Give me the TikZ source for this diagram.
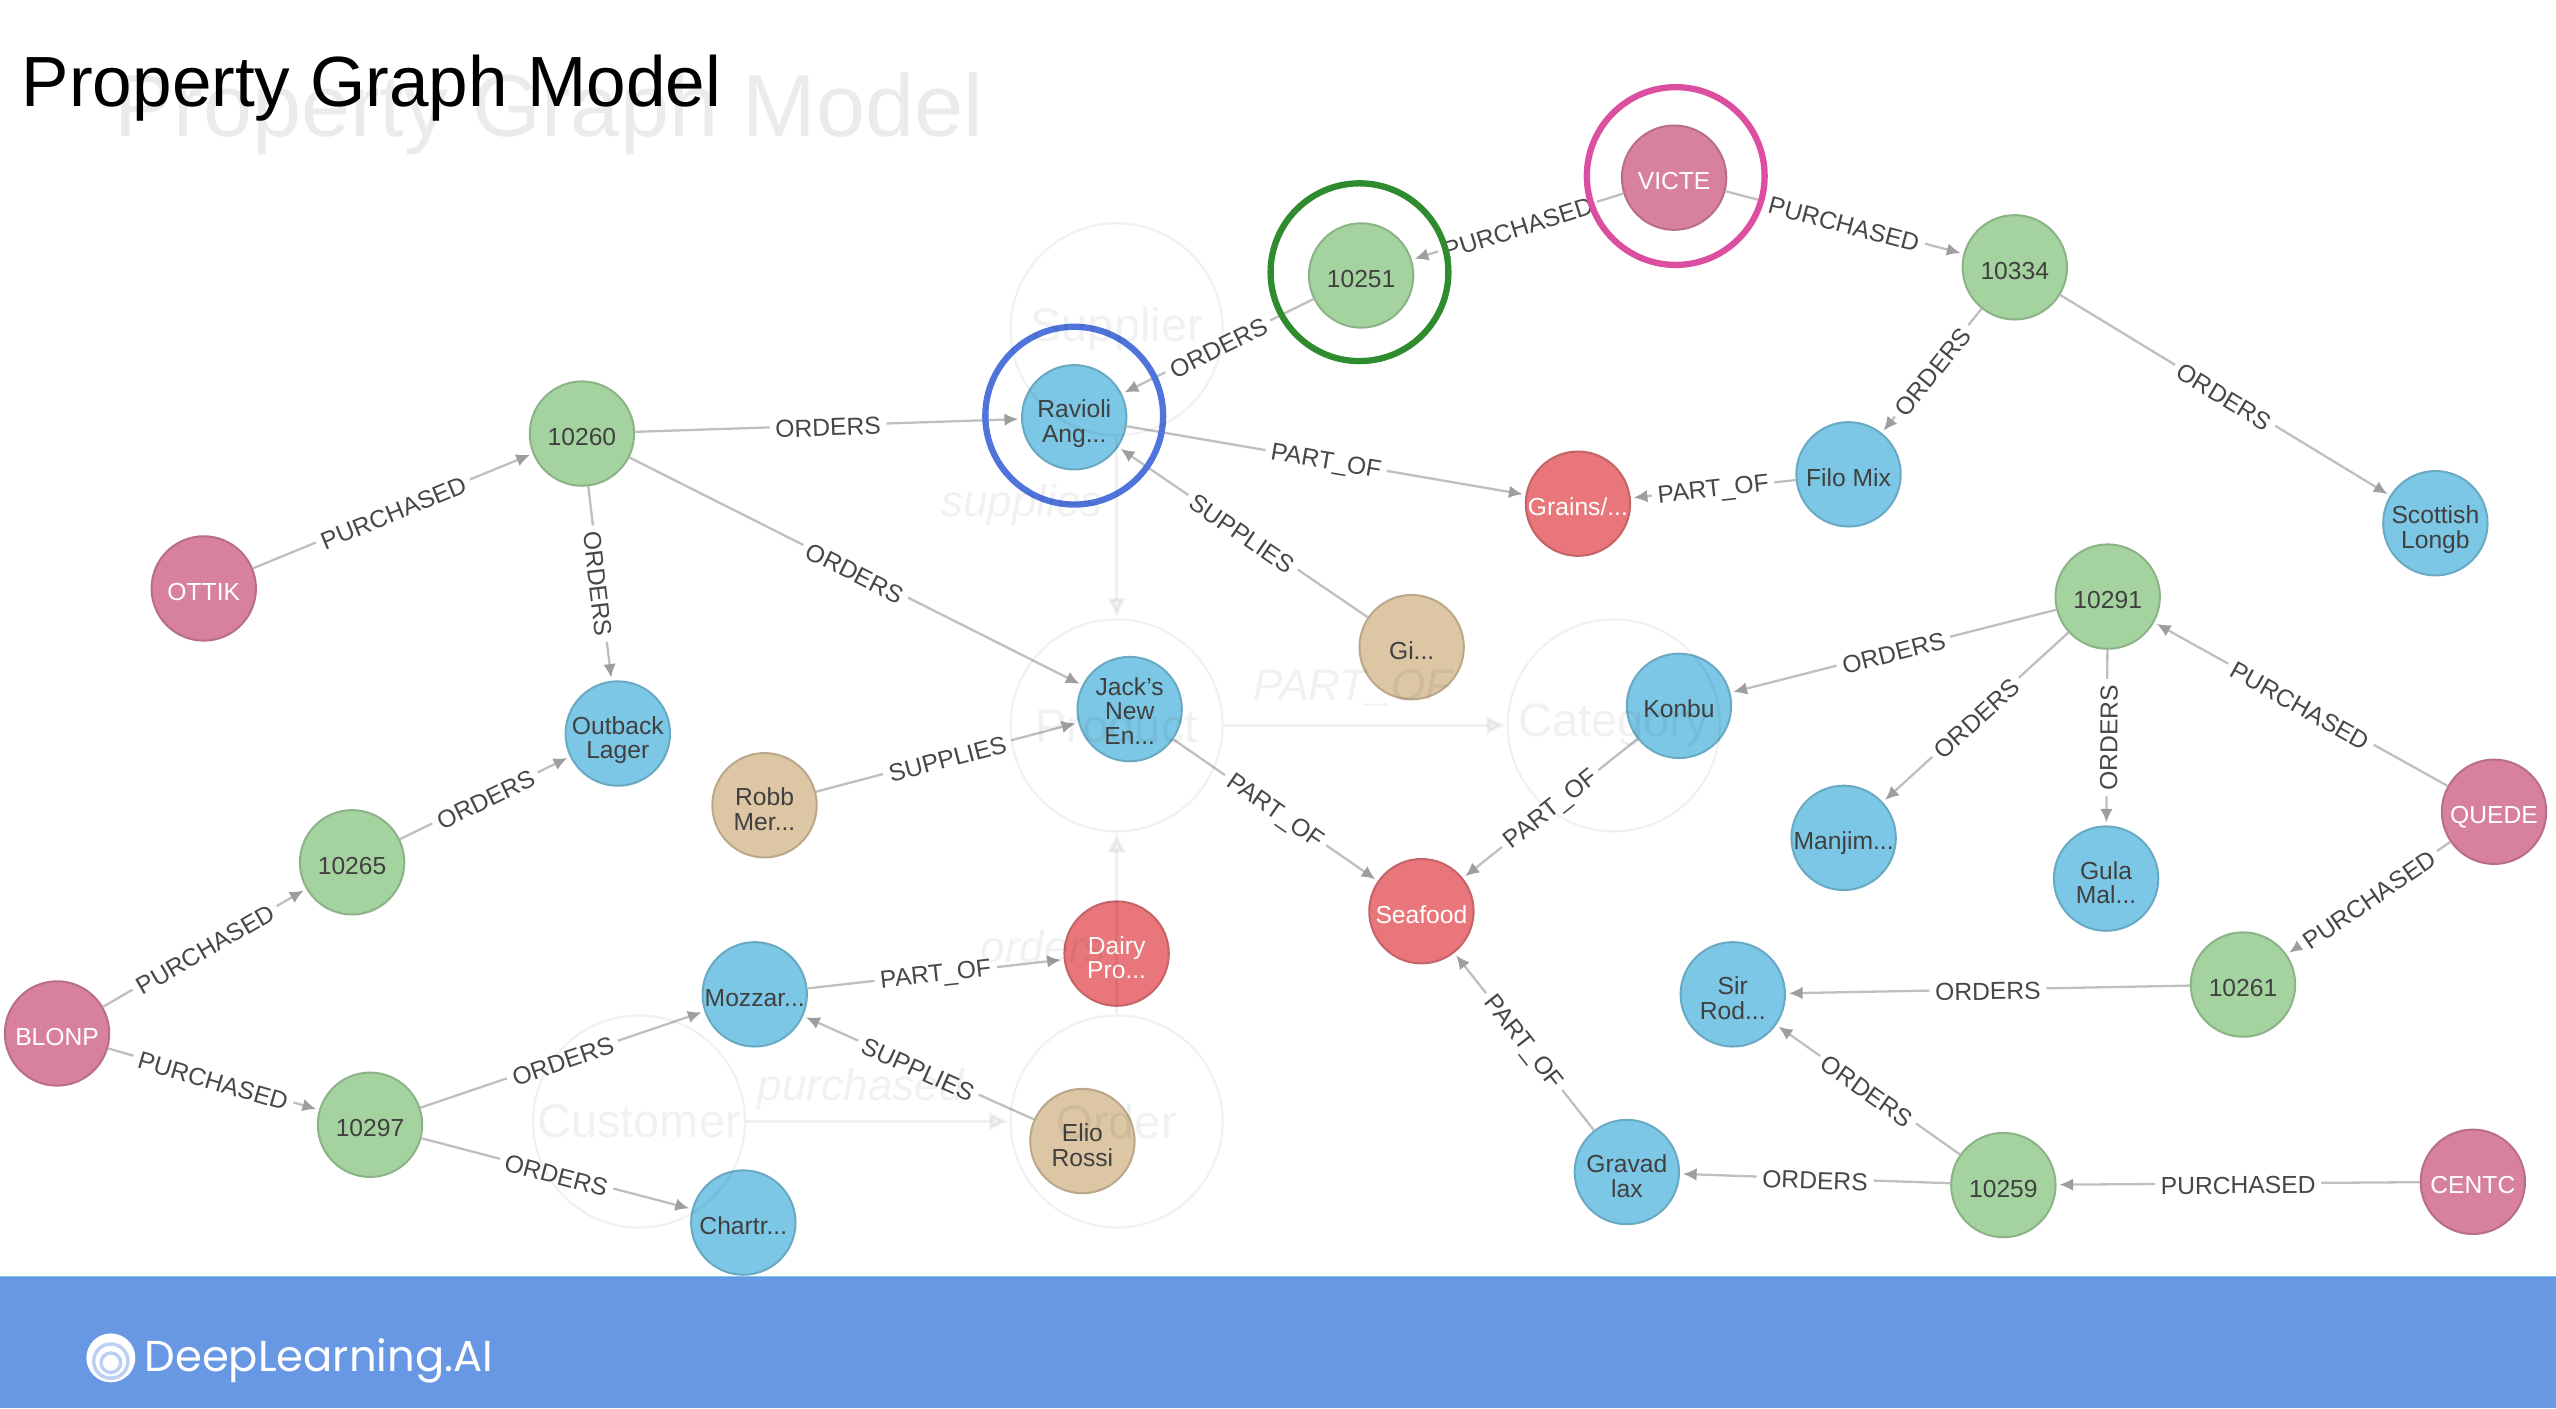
\documentclass[tikz,border=0pt]{standalone}
\usepackage{fontspec}
\setmainfont{Liberation Sans}
\newfontfamily\logofont{Poppins}
\usetikzlibrary{arrows.meta}

\definecolor{bandblue}{HTML}{6897E3}
\definecolor{custpink}{HTML}{D8819F}
\definecolor{ordergreen}{HTML}{A5D3A0}
\definecolor{prodblue}{HTML}{7CC7E5}
\definecolor{catred}{HTML}{E8767A}
\definecolor{suptan}{HTML}{DCC6A3}

\tikzset{
    graphnode/.style={circle, inner sep=0pt, minimum size=0.64cm, line width=0.35pt, align=center, text=black!75, text height=4.2pt, text depth=0pt, font=\fontsize{4.3}{4.3}\selectfont},
    twoline/.style={text height=8.8pt},
    threeline/.style={text height=12.3pt},
    customer/.style={graphnode, fill=custpink, draw=custpink!85!black, text=white},
    order/.style={graphnode, fill=ordergreen, draw=ordergreen!85!black},
    product/.style={graphnode, fill=prodblue, draw=prodblue!85!black},
    category/.style={graphnode, fill=catred, draw=catred!85!black, text=white},
    supplier/.style={graphnode, fill=suptan, draw=suptan!85!black},
    ring/.style={circle, inner sep=0pt, minimum size=1.09cm, line width=1.1pt},
    rel/.style={draw=black!25, line width=0.4pt, shorten >=0.5pt, -{Latex[length=2.4pt,width=2.2pt,black!38]}},
    rellabel/.style={midway, sloped, fill=white, inner sep=1pt, text=black!72, text height=3.7pt, font=\fontsize{4.3}{4.3}\selectfont},
    ghost/.style={circle, draw, inner sep=0pt, minimum size=1.3cm, line width=0.4pt, font=\fontsize{8.2}{8.2}\selectfont},
    ghostlink/.style={-{Latex[length=3.5pt,width=3.5pt]}, line width=0.6pt},
    ghostlabel/.style={font=\itshape\fontsize{7.7}{7.7}\selectfont}
}

\begin{document}
\begin{tikzpicture}[x=0.01cm, y=-0.01cm]
        \useasboundingbox (0,0) rectangle (1568,864);

        % Title
        \node[anchor=west, opacity=0.08, font=\fontsize{15.4}{15.4}\selectfont] (ghosttitle) at (58,70) {Property Graph Model};
        \node[anchor=west, text=black, font=\fontsize{12.4}{12.4}\selectfont] (title) at (1,54) {Property Graph Model};

        % Customers
        \node[customer] (victe) at (1027,109) {VICTE};
        \node[customer] (ottik) at (125,361) {OTTIK};
        \node[customer] (blonp) at (35,634) {BLONP};
        \node[customer] (quede) at (1530,498) {QUEDE};
        \node[customer] (centc) at (1517,725) {CENTC};

        % Orders
        \node[order] (o10251) at (835,169) {10251};
        \node[order] (o10334) at (1236,164) {10334};
        \node[order] (o10260) at (357,266) {10260};
        \node[order] (o10265) at (216,529) {10265};
        \node[order] (o10297) at (227,690) {10297};
        \node[order] (o10291) at (1293,366) {10291};
        \node[order] (o10261) at (1376,604) {10261};
        \node[order] (o10259) at (1229,727) {10259};

        % Products
        \node[product, twoline] (ravioli) at (659,256) {Ravioli\\Ang...};
        \node[product] (filo) at (1134,291) {Filo Mix};
        \node[product, twoline] (scottish) at (1494,321) {Scottish\\Longb};
        \node[product, twoline] (outback) at (379,450) {Outback\\Lager};
        \node[product, threeline] (jacks) at (693,435) {Jack's\\New\\En...};
        \node[product] (konbu) at (1030,433) {Konbu};
        \node[product] (manjim) at (1131,514) {Manjim...};
        \node[product, twoline] (gula) at (1292,539) {Gula\\Mal...};
        \node[product] (mozzar) at (463,610) {Mozzar...};
        \node[product] (chartr) at (456,750) {Chartr...};
        \node[product, twoline] (sirrod) at (1063,610) {Sir\\Rod...};
        \node[product, twoline] (gravad) at (998,719) {Gravad\\lax};

        % Categories
        \node[category] (grains) at (968,309) {Grains/...};
        \node[category] (seafood) at (872,559) {Seafood};
        \node[category, twoline] (dairy) at (685,585) {Dairy\\Pro...};

        % Suppliers
        \node[supplier] (gi) at (866,397) {Gi...};
        \node[supplier, twoline] (robb) at (469,494) {Robb\\Mer...};
        \node[supplier, twoline] (elio) at (664,700) {Elio\\Rossi};

        % Left part
        \draw[rel] (ottik) -- node[rellabel] (l1) {PURCHASED} (o10260);
        \draw[rel] (o10260) -- node[rellabel] (l2) {ORDERS} (ravioli);
        \draw[rel] (o10260) -- node[rellabel] (l3) {ORDERS} (jacks);
        \draw[rel] (o10260) -- node[rellabel] (l4) {ORDERS} (outback);
        \draw[rel] (o10265) -- node[rellabel] (l5) {ORDERS} (outback);
        \draw[rel] (blonp) -- node[rellabel] (l6) {PURCHASED} (o10265);
        \draw[rel] (blonp) -- node[rellabel] (l7) {PURCHASED} (o10297);
        \draw[rel] (o10297) -- node[rellabel] (l8) {ORDERS} (mozzar);
        \draw[rel] (o10297) -- node[rellabel] (l9) {ORDERS} (chartr);
        \draw[rel] (mozzar) -- node[rellabel] (l10) {PART\_OF} (dairy);
        \draw[rel] (elio) -- node[rellabel] (l11) {SUPPLIES} (mozzar);
        \draw[rel] (robb) -- node[rellabel] (l12) {SUPPLIES} (jacks);

        % Top part
        \draw[rel] (victe) -- node[rellabel] (l13) {PURCHASED} (o10251);
        \draw[rel] (victe) -- node[rellabel] (l14) {PURCHASED} (o10334);
        \draw[rel] (o10251) -- node[rellabel] (l15) {ORDERS} (ravioli);
        \draw[rel] (o10334) -- node[rellabel] (l16) {ORDERS} (filo);
        \draw[rel] (o10334) -- node[rellabel] (l17) {ORDERS} (scottish);
        \draw[rel] (ravioli) -- node[rellabel] (l18) {PART\_OF} (grains);
        \draw[rel] (filo) -- node[rellabel] (l19) {PART\_OF} (grains);
        \draw[rel] (gi) -- node[rellabel] (l20) {SUPPLIES} (ravioli);

        % Seafood
        \draw[rel] (jacks) -- node[rellabel] (l21) {PART\_OF} (seafood);
        \draw[rel] (konbu) -- node[rellabel] (l22) {PART\_OF} (seafood);
        \draw[rel] (gravad) -- node[rellabel] (l23) {PART\_OF} (seafood);

        % Right part
        \draw[rel] (o10291) -- node[rellabel] (l24) {ORDERS} (konbu);
        \draw[rel] (o10291) -- node[rellabel] (l25) {ORDERS} (manjim);
        \draw[rel] (o10291) -- node[rellabel] (l26) {ORDERS} (gula);
        \draw[rel] (quede) -- node[rellabel] (l27) {PURCHASED} (o10291);
        \draw[rel] (quede) -- node[rellabel] (l28) {PURCHASED} (o10261);
        \draw[rel] (o10261) -- node[rellabel] (l29) {ORDERS} (sirrod);
        \draw[rel] (o10259) -- node[rellabel] (l30) {ORDERS} (sirrod);
        \draw[rel] (o10259) -- node[rellabel] (l31) {ORDERS} (gravad);
        \draw[rel] (centc) -- node[rellabel] (l32) {PURCHASED} (o10259);

        % Highlight rings
        \node[ring, draw={rgb,255:red,79;green,116;blue,219}] (ravioliring) at (659,255) {};
        \node[ring, draw={rgb,255:red,46;green,139;blue,46}] (orderring) at (834,167) {};
        \node[ring, draw={rgb,255:red,220;green,79;blue,160}] (customerring) at (1028,108) {};

        % Faint model behind the graph
        \begin{scope}[opacity=0.055]
            \node[ghost] (gsupplier) at (685,202) {Supplier};
            \node[ghost] (gproduct) at (685,445) {Product};
            \node[ghost] (gcategory) at (990,445) {Category};
            \node[ghost] (gcustomer) at (392,688) {Customer};
            \node[ghost] (gorder) at (685,688) {Order};
            \draw[ghostlink] (gsupplier) -- (gproduct);
            \draw[ghostlink] (gorder) -- (gproduct);
            \draw[ghostlink] (gproduct) -- (gcategory);
            \draw[ghostlink] (gcustomer) -- (gorder);
            \node[ghostlabel] (gsupplies) at (627,310) {supplies};
            \node[ghostlabel] (gpartof) at (830,422) {PART\_OF};
            \node[ghostlabel] (gorders) at (640,581) {orders};
            \node[ghostlabel] (gpurchased) at (528,668) {purchased};
        \end{scope}

        % Bottom band
        \fill[bandblue] (0,783) rectangle (1568,864);
        \draw[prodblue, line width=0.2pt] (0,783) -- (1568,783);

        % Logo
        \fill[white] (68,833) circle (15);
        \draw[bandblue!45!white, line width=0.6pt] (68,835) circle (10.5);
        \draw[bandblue!45!white, line width=0.6pt] (68,836) circle (6);
        \node[anchor=west, text=white, inner sep=0pt, font=\logofont\fontsize{7.55}{7.55}\selectfont] (logotext) at (88,835) {DeepLearning.AI};
    \end{tikzpicture}
\end{document}
